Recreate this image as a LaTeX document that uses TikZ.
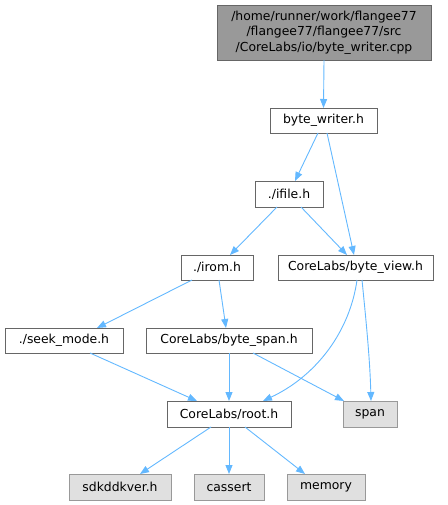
\documentclass[tikz,border=0pt]{standalone}
\usepackage{fontspec}
\setmainfont{DejaVu Sans}
\usetikzlibrary{arrows.meta}
\definecolor{edgeblue}{HTML}{63B8FF}
\definecolor{nodeborder}{HTML}{666666}
\definecolor{extborder}{HTML}{999999}
\definecolor{extfill}{HTML}{E0E0E0}
\definecolor{topfill}{HTML}{999999}
\begin{document}
\begin{tikzpicture}[x=1pt,y=-1pt,
  every node/.style={font=\fontsize{12.4}{15.5}\selectfont, inner sep=0pt, outer sep=0pt},
  filebox/.style={draw=nodeborder, fill=white, line width=0.9pt, minimum height=25pt},
  extbox/.style={draw=extborder, fill=extfill, line width=0.9pt, minimum height=26pt},
  topbox/.style={draw=nodeborder, fill=topfill, line width=0.9pt, align=center, minimum height=55pt, minimum width=214pt},
  dep/.style={draw=edgeblue, line width=0.9pt, -{Triangle[length=9pt,width=7pt]}}
]
\useasboundingbox (0,0) rectangle (447,505);

\node[topbox] (top) at (324,32.5) {/home/runner/work/flangee77\\/flangee77/flangee77/src\\/CoreLabs/io/byte\_writer.cpp};
\node[filebox, minimum width=107pt] (bw) at (323.5,120.5) {byte\_writer.h};
\node[filebox, minimum width=68pt, minimum height=26pt] (ifile) at (289,194) {./ifile.h};
\node[filebox, minimum width=72pt] (irom) at (217,267.5) {./irom.h};
\node[filebox, minimum width=155pt] (bview) at (355.5,267.5) {CoreLabs/byte\_view.h};
\node[filebox, minimum width=118pt] (seek) at (64,340.5) {./seek\_mode.h};
\node[filebox, minimum width=166pt] (bspan) at (229,340.5) {CoreLabs/byte\_span.h};
\node[filebox, minimum width=124pt, minimum height=26pt] (root) at (229,414) {CoreLabs/root.h};
\node[extbox, minimum width=54pt] (span) at (370,414) {span};
\node[extbox, minimum width=102pt] (sdk) at (120,487) {sdkddkver.h};
\node[extbox, minimum width=70pt] (cassert) at (229,487) {cassert};
\node[extbox, minimum width=78pt] (memory) at (326,487) {memory};

\draw[dep] (top.south) -- (bw.north);
\draw[dep] ([xshift=-5.5pt]bw.south) -- ([xshift=6pt]ifile.north);
\draw[dep] ([xshift=3.5pt]bw.south) -- ([xshift=-1.5pt]bview.north);
\draw[dep] ([xshift=-12pt]ifile.south) -- ([xshift=13pt]irom.north);
\draw[dep] ([xshift=12pt]ifile.south) -- ([xshift=-8.5pt]bview.north);
\draw[dep] ([xshift=-25pt]irom.south) -- ([xshift=33pt]seek.north);
\draw[dep] ([xshift=2pt]irom.south) -- ([xshift=-3pt]bspan.north);
\draw[dep] ([xshift=1.5pt]bview.south) .. controls (350,330) and (318,375) .. ([xshift=34pt]root.north);
\draw[dep] ([xshift=6.5pt]bview.south) .. controls (366,320) and (370,360) .. ([xshift=1pt]span.north);
\draw[dep] ([xshift=26pt]seek.south) -- ([xshift=-32pt]root.north);
\draw[dep] (bspan.south) -- (root.north);
\draw[dep] ([xshift=24pt]bspan.south) -- ([xshift=-26pt]span.north);
\draw[dep] ([xshift=-18pt]root.south) -- ([xshift=20pt]sdk.north);
\draw[dep] (root.south) -- (cassert.north);
\draw[dep] ([xshift=16pt]root.south) -- ([xshift=-21pt]memory.north);
\end{tikzpicture}
\end{document}
